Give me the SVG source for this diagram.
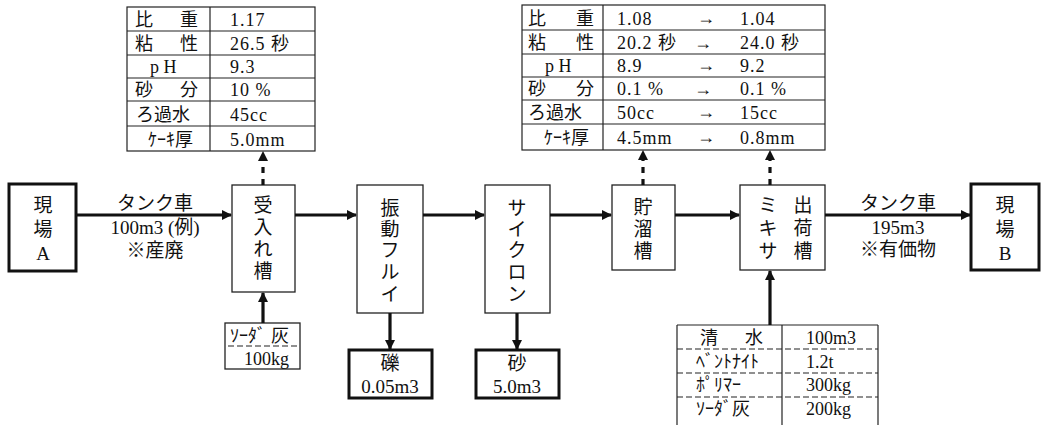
<svg xmlns="http://www.w3.org/2000/svg" width="1044" height="425" viewBox="0 0 1044 425">
<defs>
<style>
.t{font-family:"Liberation Serif","Noto Sans CJK JP",serif;font-size:18px;fill:#111}
.n{letter-spacing:1px}
.v{font-family:"Liberation Serif","Noto Sans CJK JP",serif;font-size:19px;fill:#111;text-anchor:middle}
.box{fill:#fff;stroke:#222;stroke-width:1.3}
.tbox{fill:#fff;stroke:#111;stroke-width:3}
.grid{stroke:#222;stroke-width:1.2;fill:none}
.dash{stroke:#222;stroke-width:1.2;stroke-dasharray:6 3;fill:none}
.conn{stroke:#111;stroke-width:3.2;fill:none}
.dconn{stroke:#111;stroke-width:3.2;stroke-dasharray:6 6;fill:none}
</style>
<marker id="ah" viewBox="0 0 10 10" refX="9" refY="5" markerWidth="10" markerHeight="10" markerUnits="userSpaceOnUse" orient="auto">
<path d="M0,0 L10,5 L0,10 Z" fill="#111"/>
</marker>
</defs>

<g id="table1">
<rect x="127" y="7" width="188" height="144" class="grid"/>
<line x1="210" y1="7" x2="210" y2="151" class="grid" stroke-width="2"/>
<line x1="127" y1="31" x2="315" y2="31" class="grid"/>
<line x1="127" y1="55" x2="315" y2="55" class="grid"/>
<line x1="127" y1="78" x2="315" y2="78" class="grid"/>
<line x1="127" y1="101" x2="315" y2="101" class="grid"/>
<line x1="127" y1="126" x2="315" y2="126" class="grid"/>
<text class="t" x="135" y="26">比</text><text class="t" x="180" y="26">重</text>
<text class="t" x="135" y="50">粘</text><text class="t" x="180" y="50">性</text>
<text class="t" x="150" y="73">p H</text>
<text class="t" x="135" y="96">砂</text><text class="t" x="180" y="96">分</text>
<text class="t" x="136" y="121">ろ過水</text>
<text class="t" x="148" y="146">ｹｰｷ厚</text>
<text class="t n" x="230" y="26">1.17</text>
<text class="t n" x="230" y="50">26.5 秒</text>
<text class="t n" x="230" y="73">9.3</text>
<text class="t n" x="230" y="96">10 %</text>
<text class="t n" x="230" y="121">45cc</text>
<text class="t n" x="230" y="146">5.0mm</text>
</g>

<g id="table2">
<rect x="522" y="5" width="303" height="145" class="grid"/>
<line x1="603" y1="5" x2="603" y2="150" class="grid" stroke-width="2"/>
<line x1="522" y1="30" x2="825" y2="30" class="grid"/>
<line x1="522" y1="54" x2="825" y2="54" class="grid"/>
<line x1="522" y1="77" x2="825" y2="77" class="grid"/>
<line x1="522" y1="100" x2="825" y2="100" class="grid"/>
<line x1="522" y1="124" x2="825" y2="124" class="grid"/>
<text class="t" x="528" y="25">比</text><text class="t" x="576" y="25">重</text>
<text class="t" x="528" y="49">粘</text><text class="t" x="576" y="49">性</text>
<text class="t" x="545" y="72">p H</text>
<text class="t" x="528" y="95">砂</text><text class="t" x="576" y="95">分</text>
<text class="t" x="528" y="119">ろ過水</text>
<text class="t" x="544" y="144">ｹｰｷ厚</text>
<text class="t n" x="617" y="25">1.08</text><text class="t" x="697" y="24" font-size="12">→</text><text class="t n" x="740" y="25">1.04</text>
<text class="t n" x="617" y="49">20.2 秒</text><text class="t" x="694" y="49">→</text><text class="t n" x="740" y="49">24.0 秒</text>
<text class="t n" x="617" y="72">8.9</text><text class="t" x="697" y="71" font-size="12">→</text><text class="t n" x="740" y="72">9.2</text>
<text class="t n" x="617" y="95">0.1 %</text><text class="t" x="694" y="95">→</text><text class="t n" x="740" y="95">0.1 %</text>
<text class="t n" x="617" y="119">50cc</text><text class="t" x="697" y="118" font-size="12">→</text><text class="t n" x="740" y="119">15cc</text>
<text class="t n" x="617" y="144">4.5mm</text><text class="t" x="697" y="143" font-size="12">→</text><text class="t n" x="740" y="144">0.8mm</text>
</g>

<g id="table3">
<line x1="677" y1="325" x2="878" y2="325" class="grid"/>
<line x1="677" y1="325" x2="677" y2="425" class="grid"/>
<line x1="782" y1="325" x2="782" y2="425" class="grid" stroke-width="2"/>
<line x1="878" y1="325" x2="878" y2="425" class="grid"/>
<line x1="677" y1="349" x2="878" y2="349" class="dash"/>
<line x1="677" y1="373" x2="878" y2="373" class="dash"/>
<line x1="677" y1="397" x2="878" y2="397" class="dash"/>
<text class="t" x="700" y="344">清</text><text class="t" x="745" y="344">水</text>
<text class="t" x="696" y="368">ﾍﾞﾝﾄﾅｲﾄ</text>
<text class="t" x="696" y="391">ﾎﾟﾘﾏｰ</text>
<text class="t" x="696" y="415">ｿｰﾀﾞ灰</text>
<text class="t" x="806" y="344">100m3</text>
<text class="t" x="806" y="368">1.2t</text>
<text class="t" x="806" y="391">300kg</text>
<text class="t" x="806" y="415">200kg</text>
</g>

<g id="genbaA">
<rect x="9" y="184" width="67" height="87" class="tbox"/>
<text class="v" x="43" y="212">現</text>
<text class="v" x="43" y="236">場</text>
<text class="v" x="43" y="260">A</text>
</g>

<g id="ukeire">
<rect x="232" y="185" width="63" height="107" class="box"/>
<text class="v" x="263" y="212">受</text>
<text class="v" x="263" y="234">入</text>
<text class="v" x="263" y="256">れ</text>
<text class="v" x="263" y="278">槽</text>
</g>

<g id="furui">
<rect x="357" y="185" width="66" height="128" class="box"/>
<text class="v" x="390" y="215">振</text>
<text class="v" x="390" y="236">動</text>
<text class="v" x="390" y="257">フ</text>
<text class="v" x="390" y="279">ル</text>
<text class="v" x="390" y="301">イ</text>
</g>

<g id="cyclone">
<rect x="485" y="185" width="65" height="128" class="box"/>
<text class="v" x="517" y="215">サ</text>
<text class="v" x="517" y="236">イ</text>
<text class="v" x="517" y="257">ク</text>
<text class="v" x="517" y="279">ロ</text>
<text class="v" x="517" y="301">ン</text>
</g>

<g id="choryu">
<rect x="612" y="185" width="63" height="85" class="box"/>
<text class="v" x="643" y="214">貯</text>
<text class="v" x="643" y="236">溜</text>
<text class="v" x="643" y="258">槽</text>
</g>

<g id="mixer">
<rect x="740" y="185" width="85" height="85" class="box"/>
<text class="v" x="768" y="212">ミ</text>
<text class="v" x="768" y="235">キ</text>
<text class="v" x="768" y="258">サ</text>
<text class="v" x="803" y="212">出</text>
<text class="v" x="803" y="235">荷</text>
<text class="v" x="803" y="258">槽</text>
</g>

<g id="genbaB">
<rect x="971" y="184" width="68" height="86" class="tbox"/>
<text class="v" x="1005" y="212">現</text>
<text class="v" x="1005" y="236">場</text>
<text class="v" x="1005" y="260">B</text>
</g>

<g id="reki">
<rect x="349" y="350" width="83" height="48" class="tbox"/>
<text class="v" x="390" y="370">礫</text>
<text class="v" x="390" y="393">0.05m3</text>
</g>

<g id="suna">
<rect x="476" y="350" width="83" height="48" class="tbox"/>
<text class="v" x="517" y="370">砂</text>
<text class="v" x="517" y="393">5.0m3</text>
</g>

<g id="soda">
<rect x="225" y="323" width="75" height="46" class="box"/>
<text class="t" x="230" y="342">ｿｰﾀﾞ</text><text class="t" x="271" y="342">灰</text>
<line x1="228" y1="346" x2="297" y2="346" class="dash"/>
<text class="t" x="244" y="365">100kg</text>
</g>

<g id="connectors">
<line x1="76" y1="215" x2="231" y2="215" class="conn" marker-end="url(#ah)"/>
<line x1="295" y1="215" x2="356" y2="215" class="conn" marker-end="url(#ah)"/>
<line x1="423" y1="215" x2="484" y2="215" class="conn" marker-end="url(#ah)"/>
<line x1="550" y1="215" x2="611" y2="215" class="conn" marker-end="url(#ah)"/>
<line x1="675" y1="215" x2="739" y2="215" class="conn" marker-end="url(#ah)"/>
<line x1="825" y1="215" x2="970" y2="215" class="conn" marker-end="url(#ah)"/>
<line x1="390" y1="313" x2="390" y2="349" class="conn" marker-end="url(#ah)"/>
<line x1="517" y1="313" x2="517" y2="349" class="conn" marker-end="url(#ah)"/>
<line x1="263" y1="323" x2="263" y2="293" class="conn" marker-end="url(#ah)"/>
<line x1="770" y1="325" x2="770" y2="271" class="conn" marker-end="url(#ah)"/>
<line x1="263" y1="185" x2="263" y2="152" class="dconn" marker-end="url(#ah)"/>
<line x1="643" y1="185" x2="643" y2="151" class="dconn" marker-end="url(#ah)"/>
<line x1="770" y1="185" x2="770" y2="151" class="dconn" marker-end="url(#ah)"/>
<text class="v" x="155" y="210">タンク車</text>
<text class="v" x="155" y="234">100m3 (例)</text>
<text class="v" x="155" y="257">※産廃</text>
<text class="v" x="898" y="210">タンク車</text>
<text class="v" x="898" y="234">195m3</text>
<text class="v" x="898" y="256">※有価物</text>
</g>
</svg>
